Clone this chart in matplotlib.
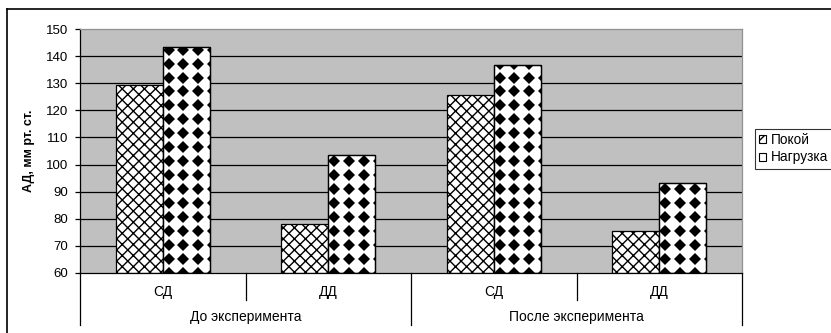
import numpy as np
import matplotlib
matplotlib.use('Agg')
import matplotlib.pyplot as plt
from matplotlib.lines import Line2D
from matplotlib.patches import Patch

plt.rcParams['font.family'] = ['Liberation Sans', 'DejaVu Sans']
plt.rcParams['hatch.color'] = '#505050'
plt.rcParams['hatch.linewidth'] = 1.0

groups = ['До эксперимента', 'После эксперимента']
subcats = ['СД', 'ДД', 'СД', 'ДД']
rest = [129.3, 78.0, 125.5, 75.6]
load = [143.2, 103.4, 136.7, 93.3]
series_names = ['Покой', 'Нагрузка']

fig = plt.figure(figsize=(8.31, 3.33), dpi=100)
ax = fig.add_axes([0.0963, 0.1802, 0.7966, 0.7327])
ax.set_facecolor('#c0c0c0')

x = np.arange(len(subcats))
w = 0.284
ymin, ymax = 60, 150

# grid lines behind bars
for v in range(70, 150, 10):
    ax.axhline(v, color='black', lw=0.9, zorder=1)

b1 = ax.bar(x - w / 2, np.array(rest) - ymin, w, bottom=ymin, color='white',
            edgecolor='black', hatch='xxx', lw=0.9, zorder=2)
b2 = ax.bar(x + w / 2, np.array(load) - ymin, w, bottom=ymin, color='white',
            edgecolor='black', lw=0.9, zorder=2)

# black diamond fill for the load bars
dx, dy = 0.09, 5.15
for rect in b2:
    x0 = rect.get_x()
    top = rect.get_y() + rect.get_height()
    cols = x0 + 0.035 + dx * np.arange(-1, 5)
    rows = ymin + dy * np.arange(0, int((top - ymin) / dy) + 2)
    gx, gy = np.meshgrid(cols, rows)
    ln, = ax.plot(gx.ravel(), gy.ravel(), 'D', color='black', ms=6.3,
                  mew=0, zorder=3)
    ln.set_clip_path(rect)
    ax.add_patch(plt.Rectangle((rect.get_x(), rect.get_y()), rect.get_width(),
                               rect.get_height(), fill=False, ec='black',
                               lw=0.9, zorder=4))

ax.set_xlim(-0.5, len(subcats) - 0.5)
ax.set_ylim(ymin, ymax)
ax.set_yticks(range(60, 151, 10))
ax.tick_params(axis='y', length=3.5, width=0.9, labelsize=9.5, pad=5)
ax.set_xticks([])
ax.spines['left'].set_color('black')
ax.spines['bottom'].set_color('black')
ax.spines['top'].set_color('#909090')
ax.spines['right'].set_color('#909090')
for s in ax.spines.values():
    s.set_linewidth(0.9)

ax.set_ylabel('АД, мм рт. ст.', fontsize=9, fontweight='bold')
ax.yaxis.set_label_coords(-0.068, 0.5)

# two-level category axis
tr = ax.get_xaxis_transform()
for i, name in enumerate(subcats):
    ax.text(i, -0.078, name, transform=tr, ha='center', va='center', fontsize=10)
for i, g in enumerate(groups):
    ax.text(2 * i + 0.5, -0.18, g, transform=tr, ha='center', va='center', fontsize=10)
for b in np.arange(-0.5, len(subcats), 1.0):
    depth = -0.213 if int(b + 0.5) % 2 == 0 else -0.111
    ax.add_line(Line2D([b, b], [0, depth], transform=tr, color='black',
                       lw=0.9, clip_on=False))

handles = [Patch(facecolor='white', edgecolor='black', hatch='xx', lw=0.8),
           Patch(facecolor='white', edgecolor='black', lw=0.8)]
leg = fig.legend(handles, series_names, loc='upper left',
                 bbox_to_anchor=(755 / 831, 1 - 129 / 333), fontsize=9.8,
                 handlelength=0.5, handleheight=0.5, handletextpad=0.35,
                 borderpad=0.3, labelspacing=0.25, fancybox=False,
                 frameon=True, borderaxespad=0)
leg.get_frame().set_edgecolor('black')
leg.get_frame().set_linewidth(0.8)

# outer chart frame
fig.add_artist(Line2D([7 / 831, 7 / 831], [0, 1 - 9 / 333], transform=fig.transFigure,
                      color='black', lw=1.2))
fig.add_artist(Line2D([7 / 831, 1], [1 - 9 / 333, 1 - 9 / 333], transform=fig.transFigure,
                      color='black', lw=1.2))

fig.savefig('out.png', dpi=100)
